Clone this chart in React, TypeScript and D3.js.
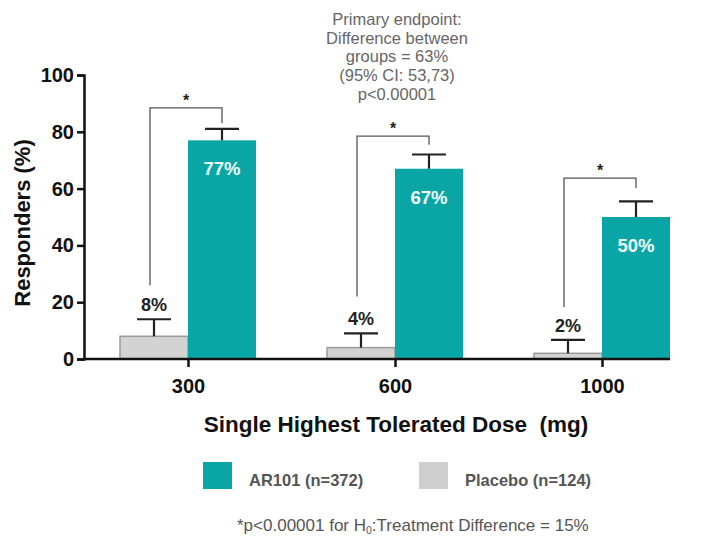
import React, { useEffect, useRef } from 'react';
import * as d3 from 'd3';

const doses = ['300', '600', '1000'];
const ar101 = [77, 67, 50];
const ar101Err = [81, 72, 55.5];
const placebo = [8, 4, 2];
const placeboErr = [14, 9, 6.7];
const bracketLeft = [26, 22, 18.3];
const bracketTop = [88.4, 78.5, 63.7];
const bracketRight = [83, 75.4, 60.2];
const yTicks = [0, 20, 40, 60, 80, 100];
const noteLines = ['Primary endpoint:', 'Difference between', 'groups = 63%', '(95% CI: 53,73)', 'p<0.00001'];

const TEAL = '#0aa6a5';
const GREY = '#d3d3d3';
const FONT = '"Liberation Sans", Arial, sans-serif';

export default function App() {
  const svgRef = useRef<SVGSVGElement>(null);

  useEffect(() => {
    if (!svgRef.current) return;
    const svg = d3.select(svgRef.current);
    svg.selectAll('*').remove();

    const x = d3.scalePoint<string>().domain(doses).range([188, 602]);
    const y = d3.scaleLinear().domain([0, 100]).range([359, 75]);
    const bw = 68;

    const g = svg.append('g').style('font-family', FONT);

    // bars
    doses.forEach((d, i) => {
      const cx = x(d)!;
      // placebo
      g.append('rect')
        .attr('x', cx - bw).attr('y', y(placebo[i]))
        .attr('width', bw).attr('height', y(0) - y(placebo[i]))
        .attr('fill', GREY).attr('stroke', '#9a9a9a').attr('stroke-width', 1.5);
      // AR101
      g.append('rect')
        .attr('x', cx).attr('y', y(ar101[i]))
        .attr('width', bw).attr('height', y(0) - y(ar101[i]))
        .attr('fill', TEAL);

      // error bars
      const errs = [
        { c: cx - bw / 2, v: placebo[i], e: placeboErr[i] },
        { c: cx + bw / 2, v: ar101[i], e: ar101Err[i] },
      ];
      errs.forEach(({ c, v, e }) => {
        g.append('line').attr('x1', c).attr('x2', c).attr('y1', y(v)).attr('y2', y(e))
          .attr('stroke', '#222').attr('stroke-width', 2.2);
        g.append('line').attr('x1', c - 17).attr('x2', c + 17).attr('y1', y(e)).attr('y2', y(e))
          .attr('stroke', '#222').attr('stroke-width', 2.2);
      });

      // value labels
      g.append('text')
        .attr('x', cx - bw / 2).attr('y', y(placeboErr[i]) - 8)
        .attr('text-anchor', 'middle').attr('font-size', 18).attr('font-weight', 700)
        .attr('fill', '#222').text(`${placebo[i]}%`);
      g.append('text')
        .attr('x', cx + bw / 2).attr('y', y(ar101[i]) + 35)
        .attr('text-anchor', 'middle').attr('font-size', 18.5).attr('font-weight', 700)
        .attr('fill', '#f2ffff').text(`${ar101[i]}%`);

      // significance bracket
      const lx = cx - bw / 2 - 4;
      const rx = cx + bw / 2;
      g.append('path')
        .attr('d', `M${lx},${y(bracketLeft[i])}V${y(bracketTop[i])}H${rx}V${y(bracketRight[i])}`)
        .attr('fill', 'none').attr('stroke', '#555').attr('stroke-width', 1.3);
      g.append('text')
        .attr('x', (lx + rx) / 2).attr('y', y(bracketTop[i]) - 2)
        .attr('text-anchor', 'middle').attr('font-size', 16).attr('font-weight', 700)
        .attr('fill', '#222').text('*');
    });

    // y axis
    const yAxis = g.append('g').attr('transform', 'translate(84,0)')
      .call(d3.axisLeft(y).tickValues(yTicks).tickSize(7).tickPadding(3));
    yAxis.select('.domain').attr('stroke', '#111').attr('stroke-width', 2.5);
    yAxis.selectAll('.tick line').attr('stroke', '#111').attr('stroke-width', 2.5);
    yAxis.selectAll('.tick text').attr('font-size', 20).attr('font-weight', 700)
      .attr('fill', '#111').style('font-family', FONT);

    // x axis
    const xAxis = g.append('g').attr('transform', `translate(0,${y(0)})`)
      .call(d3.axisBottom(x).tickSize(8).tickPadding(12));
    xAxis.select('.domain').attr('d', `M84,0H670`).attr('stroke', '#111').attr('stroke-width', 2.5);
    xAxis.selectAll('.tick line').attr('stroke', '#111').attr('stroke-width', 2.5);
    xAxis.selectAll('.tick text').attr('font-size', 20).attr('font-weight', 700)
      .attr('fill', '#111').style('font-family', FONT);

    // axis titles
    g.append('text')
      .attr('transform', `translate(30,${(y(0) + y(100)) / 2 + 6}) rotate(-90)`)
      .attr('text-anchor', 'middle').attr('font-size', 22).attr('font-weight', 700)
      .attr('fill', '#111').text('Responders (%)');
    g.append('text')
      .attr('x', 396).attr('y', 432)
      .attr('text-anchor', 'middle').attr('font-size', 22.5).attr('font-weight', 700)
      .attr('fill', '#111').attr('xml:space', 'preserve')
      .text('Single Highest Tolerated Dose  (mg)');

    // annotation
    noteLines.forEach((t, i) => {
      g.append('text')
        .attr('x', 397).attr('y', 25 + i * 18.7)
        .attr('text-anchor', 'middle').attr('font-size', 16.5)
        .attr('fill', '#666').text(t);
    });

    // legend
    const legend = [
      { label: 'AR101 (n=372)', color: TEAL, x: 203 },
      { label: 'Placebo (n=124)', color: '#cfcfcf', x: 419 },
    ];
    legend.forEach((l) => {
      g.append('rect').attr('x', l.x).attr('y', 462).attr('width', 29).attr('height', 27)
        .attr('fill', l.color);
      g.append('text').attr('x', l.x + 46).attr('y', 486)
        .attr('font-size', 16.5).attr('font-weight', 700).attr('fill', '#555').text(l.label);
    });

    // footnote
    const fn = g.append('text').attr('x', 237).attr('y', 531)
      .attr('font-size', 17).attr('fill', '#555');
    fn.append('tspan').text('*p<0.00001 for H');
    fn.append('tspan').attr('font-size', 10.5).attr('dy', 3).text('0');
    fn.append('tspan').attr('dy', -3).text(':Treatment Difference = 15%');
  }, []);

  return <svg ref={svgRef} width={703} height={538} style={{ display: 'block', position: 'absolute', left: 0, top: 0, background: '#fff' }} />;
}
